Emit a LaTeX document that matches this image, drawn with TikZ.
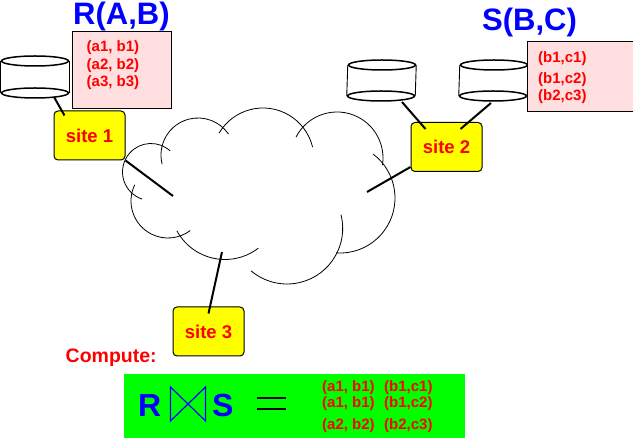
\documentclass[tikz,border=0pt]{standalone}
\usepackage{fontspec}
\setmainfont{Liberation Sans}
\usetikzlibrary{shapes.geometric, calc}
\definecolor{cRed}{HTML}{FF0000}
\definecolor{cBlue}{HTML}{0000FF}
\definecolor{cYellow}{HTML}{FFFF00}
\definecolor{cGreen}{HTML}{00FF00}
\definecolor{cPink}{HTML}{FFDFDF}
\newcommand{\fsz}[1]{\fontsize{#1}{#1}\selectfont\bfseries}

\begin{document}
\begin{tikzpicture}[
  x=1pt, y=1pt,
  sitebox/.style={draw=black, fill=cYellow, rounded corners=4pt,
    minimum width=71pt, minimum height=49pt, line width=1pt,
    font=\fsz{18.5}, text=cRed, inner sep=0pt},
  tablebox/.style={draw=black, fill=cPink, line width=0.9pt, anchor=north west, inner sep=0pt},
  diskcap/.style={draw=black, ellipse, minimum width=67pt, minimum height=10pt,
    line width=1.5pt, inner sep=0pt},
  diskside/.style={line width=0.9pt},
  link/.style={line width=2pt},
  cloudline/.style={line width=0.8pt},
  rowtext/.style={font=\fsz{15}, text=cRed, anchor=base west, inner sep=0pt},
  headtext/.style={font=\fsz{31}, text=cBlue, anchor=base west, inner sep=0pt}
]
  \useasboundingbox (0,0) rectangle (633,439);

  % disks
  \node[diskcap] (d1t) at (35,378) {};
  \node[diskcap] (d1b) at (35,346) {};
  \node[diskcap] (d2t) at (382,374) {};
  \node[diskcap] (d2b) at (381,343) {};
  \node[diskcap] (d3t) at (494,374) {};
  \node[diskcap] (d3b) at (493,343) {};
  \foreach \d in {d1,d2,d3} {
    \draw[diskside] (\d t.west) -- (\d b.west);
    \draw[diskside] (\d t.east) -- (\d b.east);
  }

  % relations
  \node[tablebox, minimum width=99pt, minimum height=77pt] (rbox) at (72,408) {};
  \node[tablebox, minimum width=105.5pt, minimum height=70pt] (sbox) at (527,398) {};
  \node[headtext] (rhead) at (73,414.5) {R(A,B)};
  \node[headtext] (shead) at (482,408) {S(B,C)};
  \node[rowtext] (r1) at (86.5,387) {(a1, b1)};
  \node[rowtext] (r2) at (86.5,369) {(a2, b2)};
  \node[rowtext] (r3) at (86.5,352) {(a3, b3)};
  \node[rowtext] (s1row) at (538,376) {(b1,c1)};
  \node[rowtext] (s2row) at (538,355) {(b1,c2)};
  \node[rowtext] (s3row) at (538,338) {(b2,c3)};

  % sites
  \node[sitebox] (s1) at (89.5,303.5) {site 1};
  \node[sitebox] (s2) at (446.5,292) {site 2};
  \node[sitebox] (s3) at (208.5,107.5) {site 3};

  % cloud
  \foreach \cx/\cy/\rad/\angA/\angB in {
    151/267/28.5/48/252, 168/238/37/154/307, 225/234.2/54.7/208.4/307.5,
    198/284/37/194.4/34.5, 263/280/51/149.4/13.5, 337/281/46/153/-9,
    340/241/55/53/-94, 287/210.7/55.7/14.2/-130} {
    \draw[cloudline] ([shift={(\angA:\rad)}]\cx,\cy) arc[start angle=\angA, end angle=\angB, radius=\rad];
  }

  % links
  \coordinate (c1) at (173,243);
  \coordinate (c2) at (367,247);
  \coordinate (c3) at (222,187);
  \draw[link] (s1.south east) -- (c1);
  \draw[link] ([yshift=5pt]s2.south west) -- (c2);
  \draw[link] ([yshift=-7pt]s3.north) -- (c3);
  \draw[link] ([shift={(19,-4)}]d1b.center) -- ([shift={(11,-5)}]s1.north west);
  \draw[link] ([shift={(21,-6)}]d2b.center) -- ([shift={(15,-7)}]s2.north west);
  \draw[link] ([shift={(-2,-7)}]d3b.center) -- ([shift={(50,-7)}]s2.north west);

  % result
  \node[font=\fsz{19.5}, text=cRed, anchor=base west, inner sep=0pt] (compute) at (65.5,76) {Compute:};
  \node[fill=cGreen, anchor=north west, minimum width=341pt, minimum height=64pt, inner sep=0pt] (result) at (124,65) {};
  \node[font=\fsz{32}, text=cBlue, anchor=base west, inner sep=0pt] (rname) at (138,22) {R};
  \node[font=\fsz{32}, text=cBlue, anchor=base west, inner sep=0pt] (sname) at (212,22) {S};
  \coordinate (b1) at (170.5,52);
  \coordinate (b2) at (205.5,18);
  \draw[cBlue, line width=1.2pt] (b1) -- (b2) -- (b2 |- b1) -- (b1 |- b2) -- cycle;
  \coordinate (e1) at (257,41);
  \coordinate (e2) at (286,41);
  \coordinate (e3) at (257,30);
  \coordinate (e4) at (286,30);
  \draw[line width=1.6pt] (e1) -- (e2);
  \draw[line width=1.6pt] (e3) -- (e4);
  \node[rowtext] (res1a) at (322,47) {(a1, b1)};
  \node[rowtext] (res1b) at (384,47) {(b1,c1)};
  \node[rowtext] (res2a) at (322,31) {(a1, b1)};
  \node[rowtext] (res2b) at (384,31) {(b1,c2)};
  \node[rowtext] (res3a) at (322,9) {(a2, b2)};
  \node[rowtext] (res3b) at (384,9) {(b2,c3)};
\end{tikzpicture}
\end{document}
